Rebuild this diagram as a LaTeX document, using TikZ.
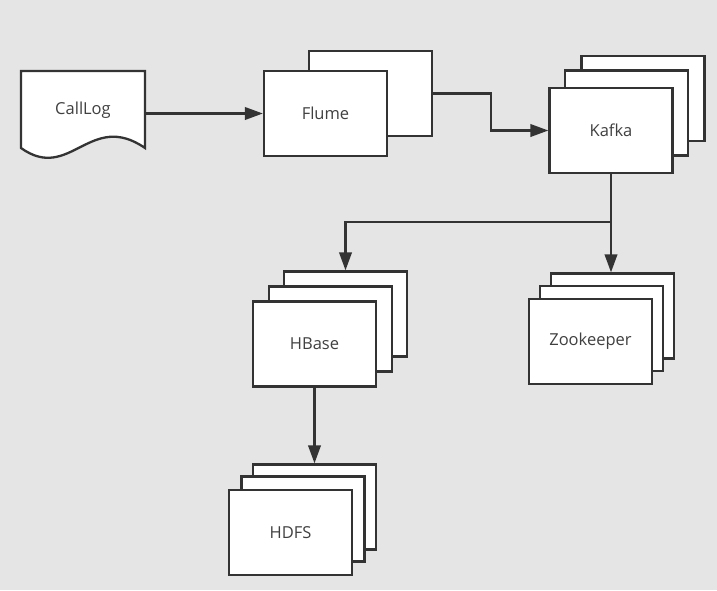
\documentclass[tikz,border=0pt]{standalone}
\usepackage{fontspec}
\setmainfont{Open Sans}
\usetikzlibrary{arrows.meta,calc}
\definecolor{bg}{HTML}{E5E5E5}
\definecolor{ink}{HTML}{333333}
\definecolor{txt}{HTML}{404040}
\begin{document}
\begin{tikzpicture}[x=1pt,y=-1pt,
    box/.style={draw=ink, line width=2.3pt, fill=white, minimum width=123pt,
      minimum height=85pt, inner sep=0pt, text=txt, font=\fontsize{16.5}{19}\selectfont},
    link/.style={draw=ink, line width=2.3pt, -{Triangle[length=18pt,width=12.5pt]}}]
        % background
        \fill[bg] (0,0) rectangle (717,590);
        % coordinates for the log document
        \coordinate (docnw) at ( 21, 71);
        \coordinate (docne) at (145, 71);
        \coordinate (docse) at (145,148);
        \coordinate (docsw) at ( 21,148);
        % drawing the log document
        \draw[draw=ink, line width=2.3pt, fill=white] (docsw) -- (docnw) -- (docne) -- (docse)
          .. controls (90,110) and (70,183) .. (docsw) -- cycle;
        \node[text=txt, font=\fontsize{16.5}{19}\selectfont, minimum width=124pt,
          minimum height=80pt, inner sep=0pt] (calllog) at (83,110) {CallLog};
        % flume
        \node[box] (flume2) at (370.5, 93.5) {};
        \node[box] (flume)  at (325.5,113.5) {Flume};
        % kafka
        \node[box] (kafka3) at (643.0, 98.5) {};
        \node[box] (kafka2) at (626.5,113.0) {};
        \node[box] (kafka)  at (611.0,130.5) {Kafka};
        % hbase
        \node[box] (hbase3) at (345.5,314.0) {};
        \node[box] (hbase2) at (330.5,329.0) {};
        \node[box] (hbase)  at (314.5,344.0) {HBase};
        % zookeeper
        \node[box] (zk3) at (612.5,316.0) {};
        \node[box] (zk2) at (601.5,328.5) {};
        \node[box] (zk)  at (590.5,341.5) {Zookeeper};
        % hdfs
        \node[box] (hdfs3) at (314.5,507.0) {};
        \node[box] (hdfs2) at (303.0,519.0) {};
        \node[box] (hdfs)  at (290.5,532.5) {HDFS};
        % drawing the links
        \coordinate (split) at ($(kafka.south)+(0,48)$);
        \draw[link] (calllog.east |- flume.west) -- (flume.west);
        \draw[link] (flume2.east) -| ($(flume2.east)!.5!(kafka.west)$) |- (kafka.west);
        \draw[link] (kafka.south) -- (kafka.south |- zk3.north);
        \draw[link] (split) -| (hbase3.north);
        \draw[link] (hbase.south) -- (hdfs3.north);
\end{tikzpicture}
\end{document}
